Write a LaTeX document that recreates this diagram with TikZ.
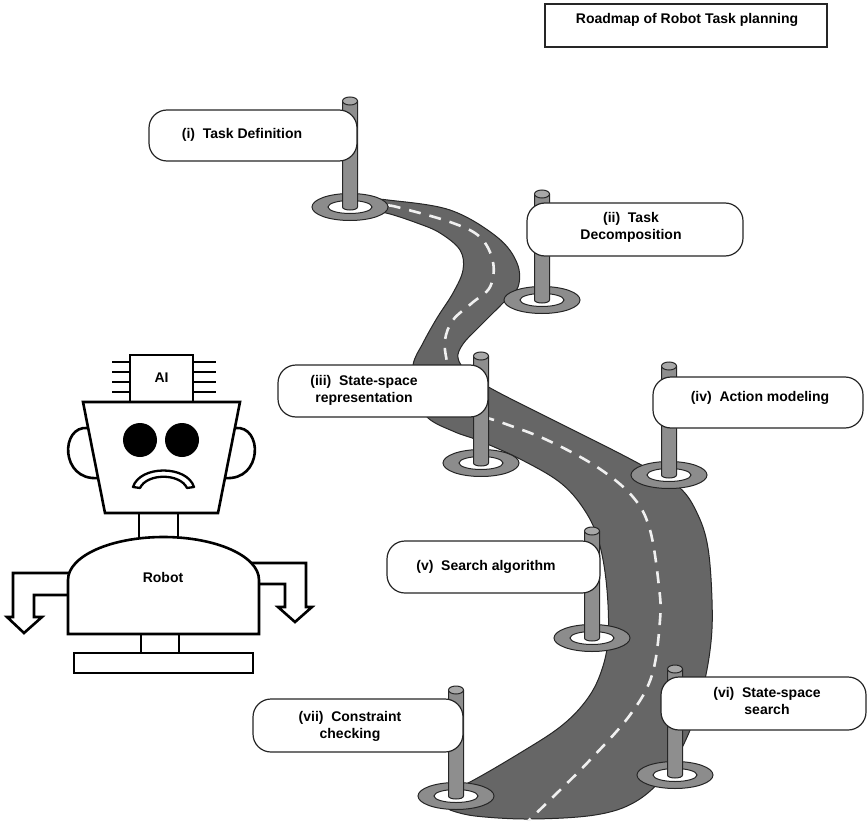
\documentclass[tikz,border=0pt]{standalone}
\usepackage{fontspec}
\setmainfont{Liberation Sans}
\definecolor{roadgray}{HTML}{666666}
\definecolor{ringgray}{HTML}{8C8C8C}
\definecolor{polegray}{HTML}{8E8E8E}
\definecolor{capgray}{HTML}{A8A8A8}
\definecolor{edge}{HTML}{262626}
\newcommand\gap{\hspace{0.55em}}
% a signpost: pole centre x, cap centre y, ring centre y
\newcommand\roadpost[3]{%
  \draw[postline,fill=ringgray] (#1,#3) ellipse [x radius=38,y radius=13.5];
  \draw[postline,fill=white] (#1,#3) ellipse [x radius=22,y radius=6.5];
  \draw[postline,fill=polegray] (#1-7.5,#2) -- (#1-7.5,#3)
     .. controls (#1-7.5,#3+4) and (#1+7.5,#3+4) .. (#1+7.5,#3) -- (#1+7.5,#2);
  \draw[postline,fill=capgray] (#1,#2) ellipse [x radius=7.5,y radius=4];
}
\begin{document}
\begin{tikzpicture}[x=1pt,y=-1pt,
  robo/.style={draw=black,line width=2.6pt,fill=white,line join=miter},
  pin/.style={draw=black,line width=2.2pt},
  roadfill/.style={fill=roadgray,draw=edge,line width=1pt},
  centreline/.style={draw=white!94!black,line width=2.6pt,dash pattern=on 12pt off 9pt},
  postline/.style={draw=edge,line width=1pt},
  signbox/.style={draw=edge,line width=1.2pt,fill=white,rounded corners=18pt},
  lbl/.style={font=\fontsize{14}{17}\selectfont\bfseries,align=center,inner sep=0pt},
]
\useasboundingbox (0,0) rectangle (867,821);
\clip (0,0) rectangle (867,821);

% title
\draw[draw=edge,line width=1.2pt] (545,4) rectangle (827,47);
\node[lbl] (title) at (687,20) {Roadmap of Robot Task planning};

% ---------------- road ----------------
\draw[roadfill]
  plot[smooth,tension=0.6] coordinates {(368,199) (388,200) (450,210) (497,237) (517,263) (518,287)
    (503,303) (478,328) (463,344) (458,358) (468,373) (492,389) (553,420) (607,447) (645,467)
    (680,488) (698,515) (708,548) (712,600) (711,642) (703,688) (688,735) (665,775) (635,802)
    (595,815) (530,819) (475,816) (450,810)}
  -- plot[smooth,tension=0.6] coordinates {(440,795) (470,782) (520,753) (560,727) (585,702)
    (600,675) (608,640) (607,590) (600,546) (587,514) (562,484) (522,460) (480,441) (455,432)
    (428,418) (414,395) (413,365) (423,343) (437,318) (453,293) (463,270) (460,250) (440,233)
    (417,223) (386,213) (368,212)}
  -- cycle;
\draw[centreline] plot[smooth,tension=0.6] coordinates {(389,206) (397,207) (450,222) (480,237)
  (493,262) (490,287) (472,303) (453,320) (445,340) (447,362) (455,395) (475,413) (503,423)
  (547,440) (597,467) (633,497) (650,530) (659,587) (660,620) (652,675) (630,715) (590,760)
  (555,795) (526,823)};

% ---------------- posts ----------------
\roadpost{350}{101}{207}
\roadpost{542}{194}{300}
\roadpost{481}{356}{463}
\roadpost{669}{366}{475}
\roadpost{592}{531}{638}
\roadpost{675}{669}{775}
\roadpost{456}{690}{796}

% ---------------- signs ----------------
\draw[signbox] (149,110) rectangle (357,161);
\draw[signbox] (527,203) rectangle (743,256);
\draw[signbox] (278,365) rectangle (488,417);
\draw[signbox] (653,377) rectangle (863,428);
\draw[signbox] (387,541) rectangle (600,593);
\draw[signbox] (661,677) rectangle (866,730);
\draw[signbox] (253,699) rectangle (463,752);

\node[lbl] (s1) at (242,135) {(i)\gap Task Definition};
\node[lbl] (s2) at (631,227) {(ii)\gap Task\\Decomposition};
\node[lbl] (s3) at (364,390) {(iii)\gap State-space\\representation};
\node[lbl] (s4) at (760,398) {(iv)\gap Action modeling};
\node[lbl] (s5) at (486,567) {(v)\gap Search algorithm};
\node[lbl] (s6) at (767,701) {(vi)\gap State-space\\search};
\node[lbl] (s7) at (350,726) {(vii)\gap Constraint\\checking};

% ---------------- robot ----------------
% ears
\draw[robo] (88,428) .. controls (60,425) and (60,481) .. (98,478);
\draw[robo] (235,428) .. controls (263,425) and (263,481) .. (225,478);
% chip with pins
\foreach \yy in {362,372,382,392} {
  \draw[pin] (112,\yy) -- (130,\yy);
  \draw[pin] (193,\yy) -- (216,\yy);
}
\draw[robo] (130,355) rectangle (193,402);
\node[lbl] (ai) at (161.5,378) {AI};
% head
\draw[robo] (83,402) -- (240,402) -- (218,513) -- (105,513) -- cycle;
\fill (140,440) circle (17);
\fill (182,440) circle (17);
\draw[robo,line width=2.3pt,line join=round] (133,487) .. controls (140,465) and (187,465) .. (194,487)
  -- (187,488) .. controls (180,473) and (147,473) .. (140,488) -- cycle;
% neck
\draw[robo] (139,513) -- (139,545);
\draw[robo] (178,513) -- (178,545);
% arms
\draw[robo] (80,573) -- (13,573) -- (13,617) -- (7,617) -- (24,633) -- (42,617) -- (34,617)
  -- (34,595) -- (80,595) -- cycle;
\draw[robo] (245,563) -- (306,563) -- (306,607) -- (312,607) -- (295,622) -- (278,607)
  -- (285,607) -- (285,584) -- (245,584) -- cycle;
% body
\draw[robo] (68,634) -- (68,580) .. controls (68,556) and (111,537) .. (163.5,537)
  .. controls (216,537) and (259,556) .. (259,580) -- (259,634) -- cycle;
\node[lbl] (robot) at (163,577) {Robot};
% stand
\draw[robo] (141,634) -- (141,653);
\draw[robo] (179,634) -- (179,653);
\draw[robo] (74,653) rectangle (253,673);
\end{tikzpicture}
\end{document}
